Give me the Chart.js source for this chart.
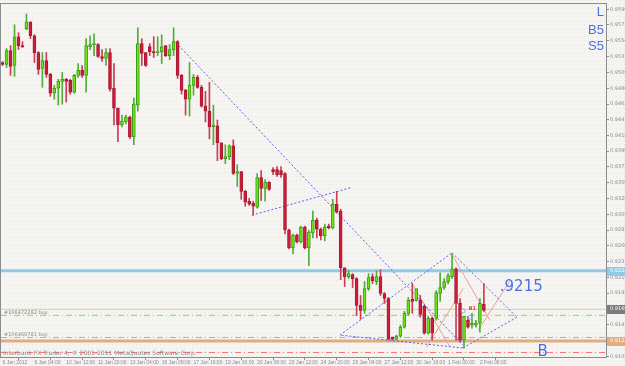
<!DOCTYPE html>
<html lang="en">
<head>
<meta charset="UTF-8">
<title>H4 chart</title>
<script src="https://cdn.jsdelivr.net/npm/chart.js@4.4.1/dist/chart.umd.min.js"></script>
<style>
    body { margin: 0; background: #f3f3ef; }
    #chart-div { width: 625px; height: 366px; }
</style>
</head>
<body>
<div id="chart-div"><canvas id="candles" width="625" height="366"></canvas></div>
<script>
// H4 bars from 6 Jan 2012 00:00 to 2 Feb 2012 12:00 (bar index = position on x)
var opens = [0.95231,0.95203,0.95402,0.95188,0.95601,0.95473,0.95715,0.95814,0.95615,0.95374,
    0.95146,0.95260,0.95061,0.94791,0.94862,0.94961,0.94990,0.94976,0.94805,0.95046,
    0.95118,0.95046,0.95459,0.95488,0.95488,0.95317,0.95289,0.95374,0.94862,0.94578,
    0.94336,0.94379,0.94450,0.94166,0.94620,0.95502,0.95374,0.95459,0.95388,0.95374,
    0.95388,0.95473,0.95331,0.95417,0.95530,0.95046,0.94833,0.94706,0.94904,0.95018,
    0.94876,0.94606,0.94535,0.94308,0.94322,0.94081,0.93853,0.93882,0.94038,0.93640,
    0.93668,0.93384,0.93242,0.93214,0.93157,0.93583,0.93427,0.93512,0.93697,0.93697,
    0.93682,0.93640,0.92830,0.92574,0.92759,0.92660,0.92873,0.92574,0.92788,0.92972,
    0.92844,0.92745,0.92887,0.92859,0.93199,0.93100,0.92289,0.92162,0.92190,0.92133,
    0.91750,0.91679,0.91991,0.92162,0.92091,0.92162,0.91920,0.91849,0.91296,0.91267,
    0.91310,0.91437,0.91636,0.91835,0.91821,0.91821,0.91736,0.91352,0.91565,0.91565,
    0.91920,0.92006,0.92091,0.92162,0.92275,0.91778,0.91253,0.91537,0.91466,0.91466,
    0.91494,0.91764];
var highs = [0.95245,0.95431,0.95473,0.95772,0.95658,0.95530,0.95928,0.95814,0.95630,0.95388,
    0.95374,0.95374,0.95075,0.94904,0.94990,0.95089,0.95004,0.94990,0.95061,0.95217,
    0.95188,0.95573,0.95615,0.95644,0.95502,0.95417,0.95431,0.95431,0.95217,0.94578,
    0.94478,0.94478,0.94464,0.94720,0.95729,0.95573,0.95374,0.95502,0.95601,0.95601,
    0.95630,0.95473,0.95488,0.95729,0.95544,0.95061,0.94848,0.95231,0.95061,0.95046,
    0.94904,0.94819,0.94947,0.94620,0.94407,0.94081,0.94052,0.94052,0.94123,0.93767,
    0.93668,0.93398,0.93285,0.93242,0.93640,0.93682,0.93554,0.93526,0.93725,0.93739,
    0.93739,0.93654,0.92844,0.92773,0.92773,0.92887,0.92887,0.92830,0.93100,0.93000,
    0.92859,0.92915,0.92915,0.93270,0.93384,0.93128,0.92289,0.92247,0.92204,0.92147,
    0.91892,0.92091,0.92204,0.92204,0.92247,0.92261,0.91934,0.91863,0.91296,0.91324,
    0.91466,0.91665,0.91863,0.92062,0.91977,0.91892,0.91750,0.91594,0.91580,0.91963,
    0.92218,0.92133,0.92204,0.92489,0.92289,0.91849,0.91594,0.91594,0.91636,0.91537,
    0.91849,0.92062];
var lows = [0.95188,0.95160,0.95046,0.95032,0.95417,0.95445,0.95701,0.95573,0.95231,0.95061,
    0.94876,0.95018,0.94748,0.94706,0.94620,0.94634,0.94663,0.94777,0.94791,0.95018,
    0.95018,0.94805,0.95417,0.95331,0.95303,0.95246,0.95188,0.94819,0.94336,0.94095,
    0.94308,0.94351,0.94138,0.94052,0.94535,0.95188,0.95174,0.95331,0.95303,0.95331,
    0.95217,0.95317,0.95274,0.95331,0.95004,0.94777,0.94478,0.94464,0.94762,0.94862,
    0.94592,0.94379,0.94138,0.94052,0.93825,0.93839,0.93782,0.93839,0.93625,0.93455,
    0.93270,0.93171,0.93185,0.93043,0.93143,0.93256,0.93242,0.93398,0.93625,0.93597,
    0.93583,0.92773,0.92560,0.92489,0.92646,0.92646,0.92560,0.92318,0.92717,0.92717,
    0.92689,0.92674,0.92844,0.92844,0.93072,0.92119,0.92020,0.92133,0.92006,0.91608,
    0.91551,0.91636,0.91963,0.92062,0.92048,0.91892,0.91778,0.91253,0.91253,0.91253,
    0.91296,0.91423,0.91608,0.91636,0.91807,0.91580,0.91338,0.91338,0.91253,0.91537,
    0.91807,0.91977,0.92062,0.92133,0.91253,0.91225,0.91139,0.91423,0.91423,0.91437,
    0.91366,0.91665];
var closes = [0.95203,0.95402,0.95174,0.95601,0.95473,0.95459,0.95814,0.95615,0.95374,0.95132,
    0.95260,0.95061,0.94791,0.94862,0.94961,0.94990,0.94961,0.94805,0.95046,0.95118,
    0.95046,0.95473,0.95488,0.95502,0.95317,0.95289,0.95374,0.94848,0.94578,0.94336,
    0.94393,0.94450,0.94166,0.94635,0.95502,0.95360,0.95188,0.95388,0.95374,0.95388,
    0.95459,0.95331,0.95417,0.95530,0.95046,0.94833,0.94706,0.94904,0.95018,0.94876,
    0.94606,0.94535,0.94308,0.94336,0.94081,0.93853,0.93882,0.94038,0.93640,0.93668,
    0.93384,0.93228,0.93199,0.93171,0.93583,0.93427,0.93512,0.93412,0.93668,0.93625,
    0.93625,0.92830,0.92574,0.92759,0.92660,0.92873,0.92574,0.92802,0.92972,0.92844,
    0.92745,0.92873,0.92859,0.93199,0.93086,0.92289,0.92162,0.92204,0.92133,0.91750,
    0.91679,0.91991,0.92147,0.92105,0.92162,0.91920,0.91849,0.91267,0.91267,0.91310,
    0.91437,0.91636,0.91821,0.91807,0.91991,0.91622,0.91352,0.91565,0.91352,0.91934,
    0.92006,0.92091,0.92176,0.92275,0.91778,0.91253,0.91594,0.91437,0.91494,0.91494,
    0.91778,0.91679];

var xTickIdx = [0,8,16,24,32,40,48,56,64,72,80,88,96,104,112,120];
var xTickLabels = ["6 Jan 2012","9 Jan 04:00","10 Jan 12:00","11 Jan 20:00","13 Jan 04:00",
    "16 Jan 08:00","17 Jan 16:00","19 Jan 00:00","20 Jan 08:00","23 Jan 12:00","24 Jan 20:00",
    "26 Jan 04:00","27 Jan 12:00","30 Jan 16:00","1 Feb 00:00","2 Feb 08:00"];
var yTicks = [0.95995,0.95770,0.95540,0.95315,0.95090,0.94860,0.94635,0.94410,0.94185,0.93960,
    0.93735,0.93505,0.93280,0.93055,0.92830,0.92605,0.92375,0.92150,0.91925,0.91700,
    0.91470,0.91245,0.91020];

// horizontal levels: [price, colour, width, dash]
var levels = [
    [0.92247, "#8fcbe6", 3, []],
    [0.91693, "#e6d27a", 1, []],
    [0.91608, "#78d878", 1, [6,3,1,3]],
    [0.91289, "#78d878", 1, [6,3,1,3]],
    [0.91239, "#e2ac80", 3, []],
    [0.91075, "#ff6f6f", 1, [6,3,1,3]]
];
// trend lines: [x1, y1, x2, y2]
var blueLines = [
    [43.6, 0.95516, 115.7, 0.91182],
    [62.7, 0.93043, 87.8, 0.93441],
    [84.8, 0.91324, 113.0, 0.92504],
    [113.0, 0.92504, 129.3, 0.91580],
    [129.3, 0.91580, 115.7, 0.91139],
    [115.7, 0.91139, 84.8, 0.91324]
];
var pinkLines = [
    [102.8, 0.92077, 112.5, 0.91154],
    [106.6, 0.91154, 115.8, 0.91991],
    [112.9, 0.92489, 122.5, 0.91537],
    [119.6, 0.91395, 127.6, 0.92105]
];
var boxLabels = [[0.92247, "#8fcbe6"], [0.91693, "#7c7c7c"], [0.91239, "#e2ac80"]];

var bodies = [], wicks = [], bodyColor = [], bodyEdge = [], wickColor = [];
for (var i = 0; i < opens.length; i++) {
    var up = closes[i] >= opens[i];
    bodies.push({x: i, y: [opens[i], closes[i]]});
    wicks.push({x: i, y: [lows[i], highs[i]]});
    bodyColor.push(up ? "#6ee60c" : "#d21c3c");
    bodyEdge.push(up ? "#3b9a1c" : "#a81830");
    wickColor.push(up ? "#4fae3a" : "#cc3c55");
}

var datasets = [
    {type: "bar", data: bodies, backgroundColor: bodyColor, borderColor: bodyEdge, borderWidth: 1,
        borderSkipped: false, barThickness: 3, minBarLength: 1, grouped: false, order: 0},
    {type: "bar", data: wicks, backgroundColor: wickColor, barThickness: 1, grouped: false, order: 1}
];
function addLine(pts, color, width, dash, order) {
    datasets.push({type: "line", data: pts, borderColor: color, borderWidth: width, borderDash: dash,
        pointRadius: 0, fill: false, tension: 0, order: order});
}
blueLines.forEach(function(l) { addLine([{x: l[0], y: l[1]}, {x: l[2], y: l[3]}], "#5a5eee", 1, [2,2], 3); });
pinkLines.forEach(function(l) { addLine([{x: l[0], y: l[1]}, {x: l[2], y: l[3]}], "#f29c9c", 1, [], 3); });
levels.forEach(function(l) { addLine([{x: -0.4, y: l[0]}, {x: 151.7, y: l[0]}], l[1], l[2], l[3], 4); });

var patCanvas = document.createElement("canvas");
patCanvas.width = 4; patCanvas.height = 4;
var pg = patCanvas.getContext("2d");
pg.fillStyle = "#f4f5f1"; pg.fillRect(0, 0, 4, 4);
pg.fillStyle = "#ebe5e5"; pg.fillRect(0, 0, 1, 1);

var mtPlugin = {
    id: "mt",
    beforeDraw: function(chart) {
        var ctx = chart.ctx;
        ctx.save();
        ctx.fillStyle = ctx.createPattern(patCanvas, "repeat");
        ctx.fillRect(0, 0, chart.width, chart.height);
        ctx.restore();
    },
    afterDatasetsDraw: function(chart) {
        var ctx = chart.ctx, xs = chart.scales.x, ys = chart.scales.y, a = chart.chartArea;
        ctx.save();
        ctx.strokeStyle = "#8c8c8c"; ctx.lineWidth = 1;
        ctx.strokeRect(a.left - 0.5, a.top - 0.5, a.right - a.left + 1, a.bottom - a.top + 1);
        ctx.textBaseline = "alphabetic";
        ctx.fillStyle = "#4a6ee6";
        ctx.font = "15px 'DejaVu Sans'";
        ctx.textAlign = "left";
        ctx.fillText(".9215", xs.getPixelForValue(125), ys.getPixelForValue(0.9195));
        ctx.fillText("B", xs.getPixelForValue(134.5), ys.getPixelForValue(0.9103));
        ctx.font = "13px 'Liberation Sans'";
        ctx.textAlign = "right";
        ctx.fillText("L", a.right - 2, 16);
        ctx.fillText("B5", a.right - 2, 34);
        ctx.fillText("S5", a.right - 2, 50);
        ctx.textAlign = "left";
        ctx.fillStyle = "#e23a3a";
        ctx.font = "bold 5px 'DejaVu Sans'";
        ctx.fillText("B1", xs.getPixelForValue(117.2), ys.getPixelForValue(0.9169));
        ctx.strokeStyle = "#8aa6dc";
        [[115.8, 0.91670], [117.6, 0.91580]].forEach(function(p) {
            ctx.beginPath();
            ctx.arc(xs.getPixelForValue(p[0]), ys.getPixelForValue(p[1]), 2, 0, Math.PI * 2);
            ctx.stroke();
        });
        ctx.fillStyle = "#8a8a8a";
        ctx.font = "5px 'DejaVu Sans'";
        ctx.fillText("#106472282 buy", a.left + 3, ys.getPixelForValue(0.91608) - 1);
        ctx.fillText("#106469781 buy", a.left + 3, ys.getPixelForValue(0.91289) - 2);
        ctx.font = "6px 'DejaVu Sans'";
        ctx.fillText("Interbank FX Trader 4, \u00a9 2001-2011 MetaQuotes Software Corp.", a.left + 2, a.bottom - 2);
        ctx.restore();
    },
    afterDraw: function(chart) {
        var ctx = chart.ctx, ys = chart.scales.y, a = chart.chartArea;
        ctx.save();
        ctx.font = "5px 'DejaVu Sans'";
        ctx.textBaseline = "middle";
        boxLabels.forEach(function(b) {
            var y = Math.round(ys.getPixelForValue(b[0]));
            ctx.fillStyle = b[1];
            ctx.fillRect(a.right + 1, y - 4, 30, 9);
            ctx.fillStyle = "#ffffff";
            ctx.fillText(b[0].toFixed(5), a.right + 4, y);
        });
        ctx.restore();
    }
};

new Chart(document.getElementById("candles"), {
    type: "bar",
    data: {datasets: datasets},
    plugins: [mtPlugin],
    options: {
        responsive: false,
        animation: false,
        devicePixelRatio: 1,
        layout: {padding: {left: 1, top: 1}},
        plugins: {legend: {display: false}, tooltip: {enabled: false}},
        scales: {
            x: {
                type: "linear", min: -0.4, max: 151.7, offset: false,
                afterBuildTicks: function(s) { s.ticks = xTickIdx.map(function(v) { return {value: v}; }); },
                afterFit: function(s) { s.height = 9; },
                grid: {drawOnChartArea: false, tickLength: 3, color: "#8c8c8c"},
                border: {display: true, color: "#8c8c8c"},
                ticks: {
                    autoSkip: false, maxRotation: 0, align: "start", padding: 0,
                    font: {size: 5, family: "Liberation Sans"}, color: "#8a8a9a",
                    callback: function(v) { return xTickLabels[xTickIdx.indexOf(v)]; }
                }
            },
            y: {
                position: "right", min: 0.9101, max: 0.9607,
                afterBuildTicks: function(s) { s.ticks = yTicks.map(function(v) { return {value: v}; }); },
                afterFit: function(s) { s.width = 19; },
                grid: {drawOnChartArea: false, tickLength: 3, color: "#8c8c8c"},
                border: {display: true, color: "#8c8c8c"},
                ticks: {
                    padding: 1, font: {size: 5, family: "DejaVu Sans"}, color: "#8a8a9a",
                    callback: function(v) { return v.toFixed(5); }
                }
            }
        }
    }
});
</script>
</body>
</html>
